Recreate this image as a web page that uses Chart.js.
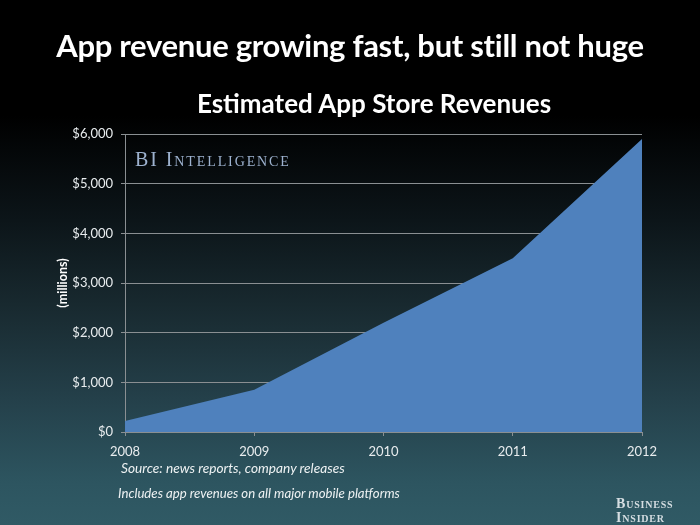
<!DOCTYPE html>
<html>
<head>
<meta charset="utf-8">
<script src="https://cdn.jsdelivr.net/npm/chart.js@4"></script>
<style>
  html, body { margin:0; padding:0; }
  body { width:700px; height:525px; overflow:hidden; }
  #wrap { position:relative; width:700px; height:525px;
    background: linear-gradient(to bottom, #000 0%, #000 22%, #0c1519 42%, #18292f 58%, #24404a 76%, #2d5560 92%, #305a65 100%); }
  canvas { position:absolute; left:0; top:0; }
  .t { position:absolute; white-space:nowrap; color:#fff; }
  #title { left:0; width:700px; text-align:center; top:26px; font:bold 31px Lato, sans-serif; letter-spacing:-0.3px; }
  #sub { left:24px; width:700px; text-align:center; top:87px; font:bold 26px Lato, sans-serif; letter-spacing:0px; }
  #bi { left:135px; top:148px; font:20px "Liberation Serif", serif; font-variant:small-caps; color:#9db2cf; letter-spacing:1.9px; }
  #src { left:121px; top:459px; font:italic 13.7px Lato, sans-serif; color:#eef2f3; }
  #inc { left:118px; top:485px; font:italic 13.2px Lato, sans-serif; color:#eef2f3; }
  #logo { left:616px; top:497px; font:bold 14px "Liberation Serif", serif; font-variant:small-caps; color:#d6dee2; line-height:14px; letter-spacing:0.8px; }
</style>
</head>
<body>
<div id="wrap">
  <canvas id="c" width="700" height="525"></canvas>
  <div class="t" id="title">App revenue growing fast, but still not huge</div>
  <div class="t" id="sub">Estimated App Store Revenues</div>
  <div class="t" id="bi">BI Intelligence</div>
  <div class="t" id="src">Source: news reports, company releases</div>
  <div class="t" id="inc">Includes app revenues on all major mobile platforms</div>
  <div class="t" id="logo">Business<br>Insider</div>
</div>
<script>
const years = ['2008', '2009', '2010', '2011', '2012'];
const revenues = [220, 850, 2200, 3500, 5900];
const yTickValues = [0, 1000, 2000, 3000, 4000, 5000, 6000];
const yAxisTitle = '(millions)';

new Chart(document.getElementById('c'), {
  type: 'line',
  data: {
    labels: years,
    datasets: [{
      data: revenues,
      fill: 'origin',
      backgroundColor: '#4f81bd',
      borderColor: '#4f81bd',
      borderWidth: 0,
      pointRadius: 0,
      tension: 0
    }]
  },
  options: {
    responsive: false,
    animation: false,
    events: [],
    layout: { padding: { top: 134, right: 58, left: 0, bottom: 0 } },
    plugins: { legend: { display: false }, tooltip: { enabled: false }, title: { display: false } },
    scales: {
      x: {
        offset: false,
        grid: { drawOnChartArea: false, drawTicks: true, tickLength: 4, color: '#8a8f92' },
        border: { display: true, color: '#8a8f92' },
        ticks: { color: '#e8ecee', font: { family: 'Lato', size: 13 }, padding: 8, maxRotation: 0 },
        afterFit: s => { s.height = 93; }
      },
      y: {
        min: 0, max: 6000,
        afterBuildTicks: s => { s.ticks = yTickValues.map(v => ({ value: v })); },
        grid: { color: '#8a8f92', tickLength: 4, lineWidth: 1 },
        border: { display: true, color: '#8a8f92' },
        ticks: { color: '#e8ecee', font: { family: 'Lato', size: 13 }, padding: 8,
          callback: v => '$' + v.toLocaleString('en-US') },
        title: { display: true, text: yAxisTitle, color: '#ffffff',
          font: { family: 'Lato', size: 12.5, weight: 'bold' }, padding: { top: 55, bottom: 0 } },
        afterFit: s => { s.width = 125; }
      }
    }
  }
});
</script>
</body>
</html>
